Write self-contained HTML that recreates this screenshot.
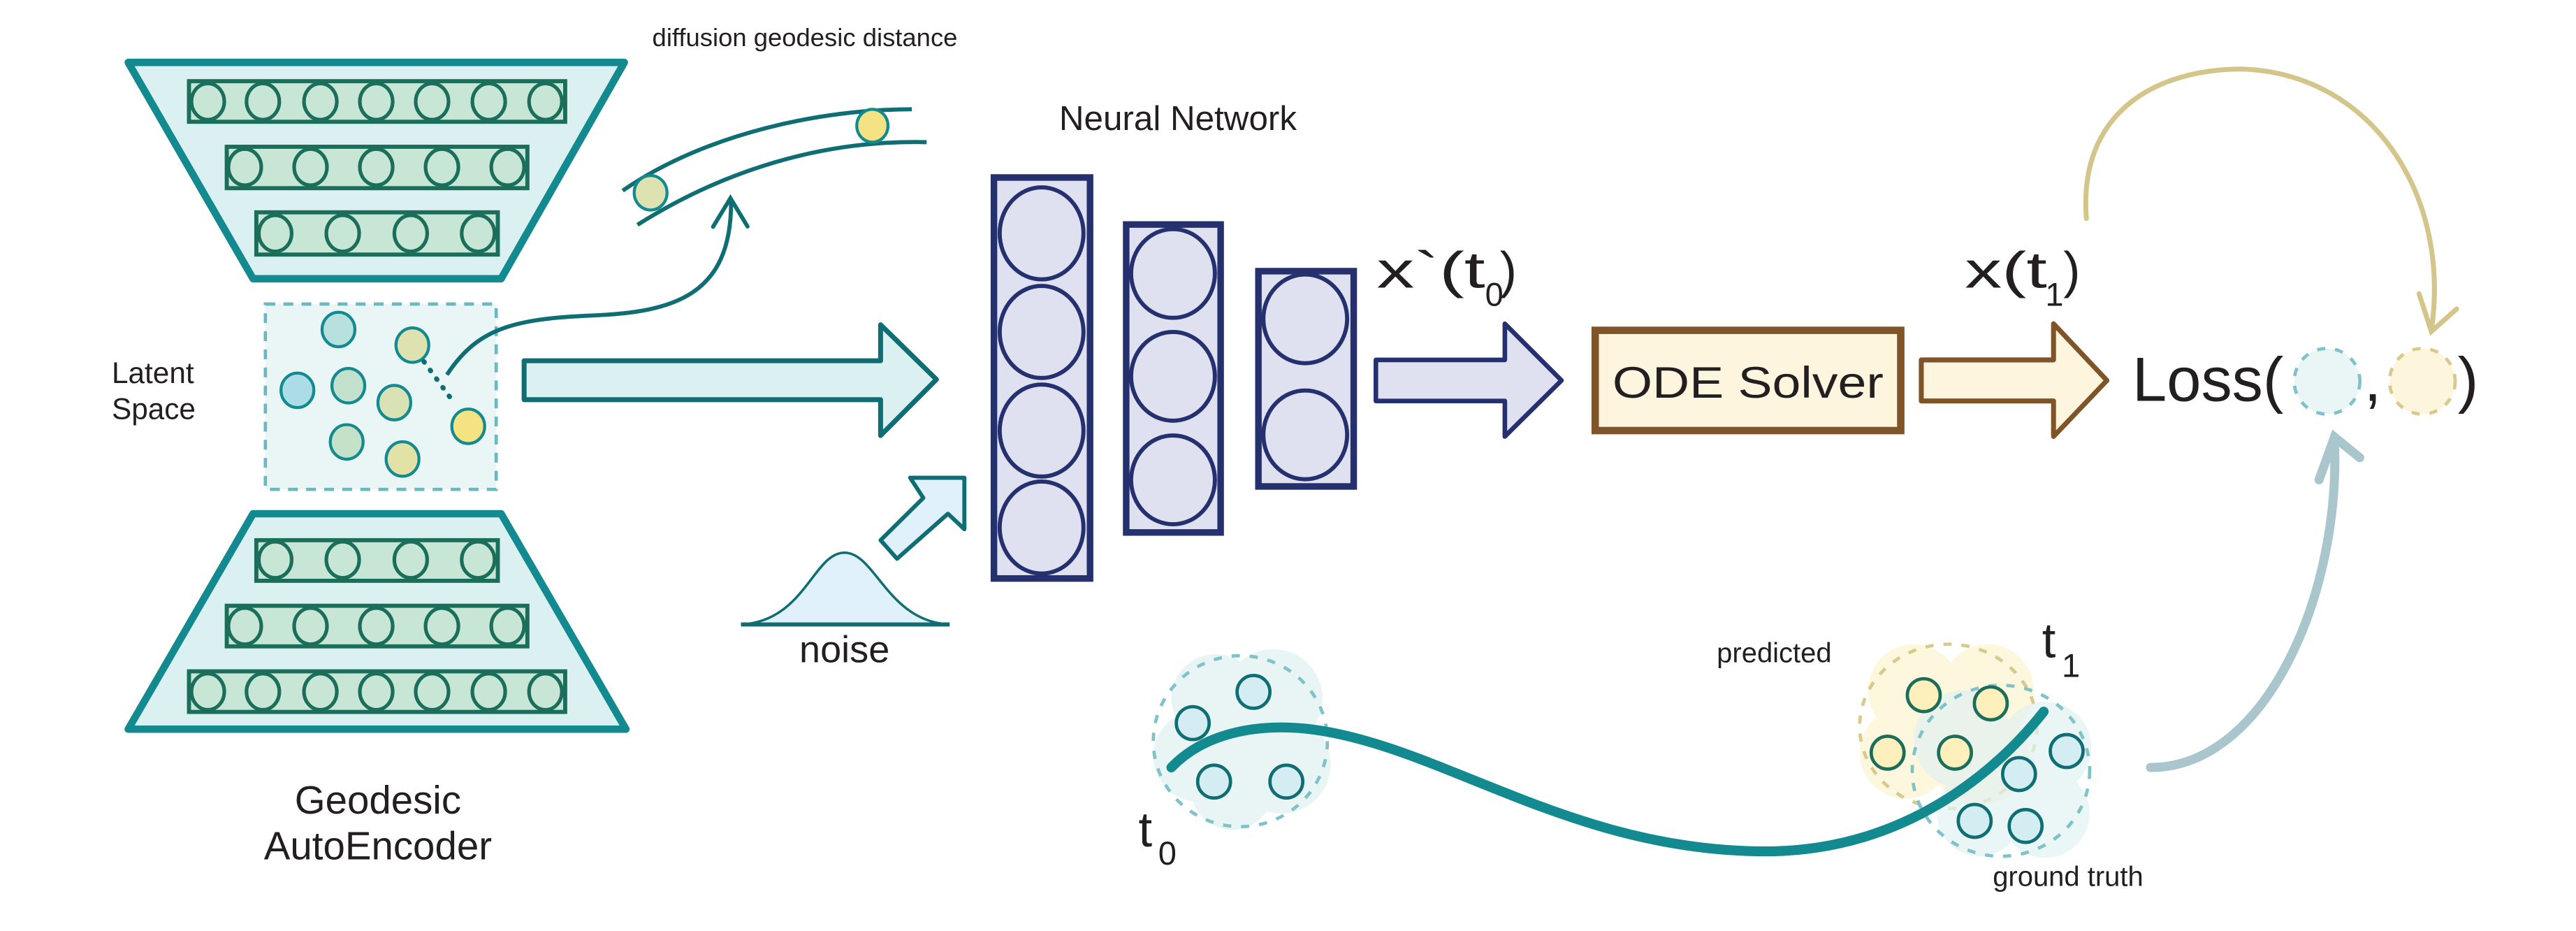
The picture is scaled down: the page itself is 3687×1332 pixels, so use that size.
<!DOCTYPE html>
<html><head><meta charset="utf-8"><style>
html,body{margin:0;padding:0;background:#fff;}
svg{display:block;}
text{font-family:"Liberation Sans",sans-serif;fill:#231f20;}
</style></head><body>
<svg width="3687" height="1332" viewBox="0 0 1568 566.5" xmlns="http://www.w3.org/2000/svg">
<defs>
<g id="gc"><ellipse rx="10" ry="11" fill="#c8e6d6" stroke="#1b6e5a" stroke-width="2.2"/></g>
</defs>
<!-- Top trapezoid -->
<polygon points="78,38 380,38 305,169.6 154,169.6" fill="#dbf0f0" stroke="#138a8f" stroke-width="4.5" stroke-linejoin="round"/>
<rect x="115" y="49.4" width="229" height="24.7" fill="#c8e6d6" stroke="#1b6e5a" stroke-width="2.5"/>
<rect x="138" y="89.3" width="183" height="25.2" fill="#c8e6d6" stroke="#1b6e5a" stroke-width="2.5"/>
<rect x="156" y="129.2" width="147" height="25.7" fill="#c8e6d6" stroke="#1b6e5a" stroke-width="2.5"/>
<use href="#gc" x="126.5" y="61.8"/><use href="#gc" x="160" y="61.8"/><use href="#gc" x="195" y="61.8"/><use href="#gc" x="229" y="61.8"/><use href="#gc" x="263" y="61.8"/><use href="#gc" x="297.5" y="61.8"/><use href="#gc" x="332" y="61.8"/>
<use href="#gc" x="149" y="101.7"/><use href="#gc" x="189" y="101.7"/><use href="#gc" x="229" y="101.7"/><use href="#gc" x="269" y="101.7"/><use href="#gc" x="309" y="101.7"/>
<use href="#gc" x="167.5" y="142"/><use href="#gc" x="208.6" y="142"/><use href="#gc" x="250" y="142"/><use href="#gc" x="291" y="142"/>
<!-- Bottom trapezoid -->
<polygon points="154,312.6 305,312.6 381,443.7 78,443.7" fill="#dbf0f0" stroke="#138a8f" stroke-width="4.5" stroke-linejoin="round"/>
<rect x="156" y="328.7" width="147" height="24.7" fill="#c8e6d6" stroke="#1b6e5a" stroke-width="2.5"/>
<rect x="138" y="368.6" width="183" height="24.7" fill="#c8e6d6" stroke="#1b6e5a" stroke-width="2.5"/>
<rect x="115" y="408.5" width="229" height="24.7" fill="#c8e6d6" stroke="#1b6e5a" stroke-width="2.5"/>
<use href="#gc" x="167.5" y="340.6"/><use href="#gc" x="208.6" y="340.6"/><use href="#gc" x="250" y="340.6"/><use href="#gc" x="291" y="340.6"/>
<use href="#gc" x="149" y="381"/><use href="#gc" x="189" y="381"/><use href="#gc" x="229" y="381"/><use href="#gc" x="269" y="381"/><use href="#gc" x="309" y="381"/>
<use href="#gc" x="126.5" y="420.9"/><use href="#gc" x="160" y="420.9"/><use href="#gc" x="195" y="420.9"/><use href="#gc" x="229" y="420.9"/><use href="#gc" x="263" y="420.9"/><use href="#gc" x="297.5" y="420.9"/><use href="#gc" x="332" y="420.9"/>
<!-- Latent space -->
<rect x="161.5" y="185" width="140.5" height="112.8" fill="#eaf6f6" stroke="#6bb9bf" stroke-width="2" stroke-dasharray="6,5"/>
<g stroke="#138a8f" stroke-width="1.8">
<ellipse cx="206" cy="200.5" rx="10" ry="10.5" fill="#b8e0dc"/>
<ellipse cx="251" cy="210" rx="10" ry="10.5" fill="#dde2b0"/>
<ellipse cx="181" cy="237.5" rx="10" ry="10.5" fill="#acdce6"/>
<ellipse cx="212" cy="234.7" rx="10" ry="10.5" fill="#c2e0cc"/>
<ellipse cx="240" cy="245" rx="10" ry="10.5" fill="#d9e2b4"/>
<ellipse cx="285" cy="259.4" rx="10" ry="10.5" fill="#f5e283"/>
<ellipse cx="211" cy="268.9" rx="10" ry="10.5" fill="#c4e2c8"/>
<ellipse cx="245" cy="279.3" rx="10" ry="10.5" fill="#e2e2a6"/>
</g>
<line x1="258" y1="220" x2="277" y2="246" stroke="#0f6e73" stroke-width="3" stroke-dasharray="0.5,6" stroke-linecap="round"/>
<path d="M272,228 C290,201 310,194 360,192 C410,190 445,180 445,123" fill="none" stroke="#0f6e73" stroke-width="2.5"/>
<polyline points="434,138 444.6,120.6 455,137.8" fill="none" stroke="#0f6e73" stroke-width="2.5" stroke-linecap="round"/>
<!-- geodesic tube -->
<path d="M379,116 C430,81 500,66.5 555,66.5" fill="none" stroke="#0f6e73" stroke-width="2.5"/>
<path d="M388,136.8 C440,104 500,85 564,86.5" fill="none" stroke="#0f6e73" stroke-width="2.5"/>
<ellipse cx="396" cy="117.3" rx="10" ry="10.5" fill="#dde2b0" stroke="#138a8f" stroke-width="1.8"/>
<ellipse cx="531" cy="76.5" rx="9.5" ry="10" fill="#f5e283" stroke="#138a8f" stroke-width="1.8"/>
<text x="397" y="28" font-size="15.5">diffusion geodesic distance</text>
<!-- Big arrow -->
<polygon points="319,219.5 536,219.5 536,197.6 570,230.9 536,265 536,243.2 319,243.2" fill="#dbf0f0" stroke="#0f6e73" stroke-width="3" stroke-linejoin="round"/>
<!-- diagonal arrow -->
<polygon points="536,328.7 562,303 554,290.7 587,290.7 587,322 577,312.6 546,340" fill="#e0f1fb" stroke="#0f6e73" stroke-width="2.5" stroke-linejoin="round"/>
<!-- noise -->
<path d="M451,380 C490,378 495,336.3 514,336.3 C533,336.3 540,378 578,380 Z" fill="#e0f1fb" stroke="#0f6e73" stroke-width="1.5"/>
<line x1="451" y1="380" x2="578" y2="380" stroke="#0f6e73" stroke-width="2.5"/>
<text x="514" y="403" font-size="23" text-anchor="middle">noise</text>
<text x="68" y="233" font-size="18">Latent</text>
<text x="68" y="255" font-size="18">Space</text>
<text x="230" y="495" font-size="24" text-anchor="middle">Geodesic</text>
<text x="230" y="523" font-size="24" text-anchor="middle">AutoEncoder</text>
<!-- Neural net -->
<text x="717" y="79" font-size="21" text-anchor="middle">Neural Network</text>
<g fill="#dfe1f0" stroke="#25306e">
<rect x="605" y="108" width="58.5" height="244" stroke-width="4"/>
<rect x="685.5" y="136.6" width="57.5" height="187.4" stroke-width="4"/>
<rect x="766" y="165" width="58" height="131" stroke-width="4"/>
<g stroke-width="2.5">
<ellipse cx="634" cy="142" rx="25.5" ry="28"/><ellipse cx="634" cy="202" rx="25.5" ry="28"/><ellipse cx="634" cy="262" rx="25.5" ry="28"/><ellipse cx="634" cy="321" rx="25.5" ry="28"/>
<ellipse cx="714" cy="166.4" rx="25.5" ry="27"/><ellipse cx="714" cy="229" rx="25.5" ry="27"/><ellipse cx="714" cy="292" rx="25.5" ry="27"/>
<ellipse cx="794.5" cy="194" rx="25.5" ry="27"/><ellipse cx="794.5" cy="264.6" rx="25.5" ry="27"/>
</g></g>
<text x="838" y="175" font-size="31" textLength="66" lengthAdjust="spacingAndGlyphs">x`(t</text><text x="904" y="186" font-size="20">0</text><text x="913" y="175" font-size="31">)</text>
<polygon points="837.5,219 916,219 916,197 950.5,231.5 916,265.6 916,244 837.5,244" fill="#dfe1f0" stroke="#25306e" stroke-width="2.8" stroke-linejoin="round"/>
<rect x="971" y="201" width="186" height="61" fill="#fdf5de" stroke="#7f5428" stroke-width="4.5"/>
<text x="1064" y="242" font-size="27" text-anchor="middle" textLength="165" lengthAdjust="spacingAndGlyphs">ODE Solver</text>
<polygon points="1169.5,219 1250,219 1250,197 1282.5,231.5 1250,265.6 1250,244 1169.5,244" fill="#fdf5de" stroke="#7f5428" stroke-width="3" stroke-linejoin="round"/>
<text x="1196" y="175" font-size="31" textLength="50" lengthAdjust="spacingAndGlyphs">x(t</text><text x="1245" y="186" font-size="20">1</text><text x="1256" y="175" font-size="31">)</text>
<text x="1298" y="244" font-size="38" textLength="92" lengthAdjust="spacingAndGlyphs">Loss(</text>
<ellipse cx="1416.5" cy="232" rx="20" ry="20" fill="#eaf6f6" stroke="#7fc2c8" stroke-width="2" stroke-dasharray="5,6"/>
<text x="1439" y="244" font-size="38">,</text>
<ellipse cx="1474.5" cy="232" rx="20" ry="20" fill="#fdf6dc" stroke="#d8ca8c" stroke-width="2" stroke-dasharray="5,6"/>
<text x="1496" y="244" font-size="38">)</text>
<!-- tan arrow -->
<path d="M1270,133 C1265,70 1310,42 1365,42 C1445,45 1492,120 1480,201" fill="none" stroke="#d4c58a" stroke-width="3" stroke-linecap="round"/>
<polyline points="1472.5,178.7 1480,201.7 1495.4,188" fill="none" stroke="#d4c58a" stroke-width="3" stroke-linecap="round"/>
<!-- blue-gray arrow -->
<path d="M1309,467 C1380,467 1425,360 1421,268" fill="none" stroke="#a8c6cc" stroke-width="5.5" stroke-linecap="round"/>
<polyline points="1411.6,292 1421,266 1436.4,278.5" fill="none" stroke="#a8c6cc" stroke-width="5.5" stroke-linecap="round"/>
<!-- clouds -->
<g opacity="0.85"><g fill="#e6f4f4">
<circle cx="740" cy="425" r="27"/><circle cx="775" cy="425" r="30"/><circle cx="730" cy="460" r="28"/><circle cx="780" cy="465" r="30"/><circle cx="750" cy="480" r="25"/></g></g>
<ellipse cx="755" cy="451" rx="53" ry="52" fill="none" stroke="#7fc2c8" stroke-width="2" stroke-dasharray="5,6"/>
<g opacity="0.85"><g fill="#fdf6d8">
<circle cx="1165" cy="420" r="28"/><circle cx="1210" cy="420" r="28"/><circle cx="1160" cy="458" r="28"/><circle cx="1205" cy="460" r="30"/></g></g>
<ellipse cx="1186" cy="442" rx="54" ry="50" fill="none" stroke="#d8ca8c" stroke-width="2" stroke-dasharray="5,6"/>
<g opacity="0.7"><g fill="#e2f2f2">
<circle cx="1195" cy="450" r="30"/><circle cx="1245" cy="455" r="28"/><circle cx="1205" cy="495" r="26"/><circle cx="1245" cy="495" r="27"/></g></g>
<ellipse cx="1218" cy="469" rx="54" ry="52" fill="none" stroke="#7fc2c8" stroke-width="2" stroke-dasharray="5,6"/>
<g stroke="#1b6e5a" stroke-width="2">
<circle cx="763" cy="421" r="10" fill="#d3edf2" stroke="#0f6e73"/><circle cx="726" cy="440" r="10" fill="#d3edf2" stroke="#0f6e73"/><circle cx="739" cy="475.6" r="10" fill="#d3edf2" stroke="#0f6e73"/><circle cx="783" cy="475.6" r="10" fill="#d3edf2" stroke="#0f6e73"/>
<circle cx="1171" cy="423" r="10" fill="#fdf0bc"/><circle cx="1211.8" cy="428" r="10" fill="#fdf0bc"/><circle cx="1149" cy="458" r="10" fill="#fdf0bc"/><circle cx="1190" cy="458" r="10" fill="#fdf0bc"/>
<circle cx="1258" cy="457" r="10" fill="#d3edf2" stroke="#0f6e73"/><circle cx="1229" cy="471" r="10" fill="#d3edf2" stroke="#0f6e73"/><circle cx="1202" cy="499.5" r="10" fill="#d3edf2" stroke="#0f6e73"/><circle cx="1233" cy="502.6" r="10" fill="#d3edf2" stroke="#0f6e73"/>
</g>
<!-- trajectory -->
<path d="M713,467 C735,444 770,440 800,444 C880,455 960,520 1080,518 C1160,516 1215,470 1244,433" fill="none" stroke="#138a8f" stroke-width="6" stroke-linecap="round"/>
<text x="693" y="515" font-size="30">t</text><text x="705" y="526" font-size="20">0</text>
<text x="1243" y="400" font-size="30">t</text><text x="1255" y="412" font-size="20">1</text>
<text x="1045" y="403" font-size="17">predicted</text>
<text x="1213" y="539" font-size="17">ground truth</text>
</svg>
</body></html>
